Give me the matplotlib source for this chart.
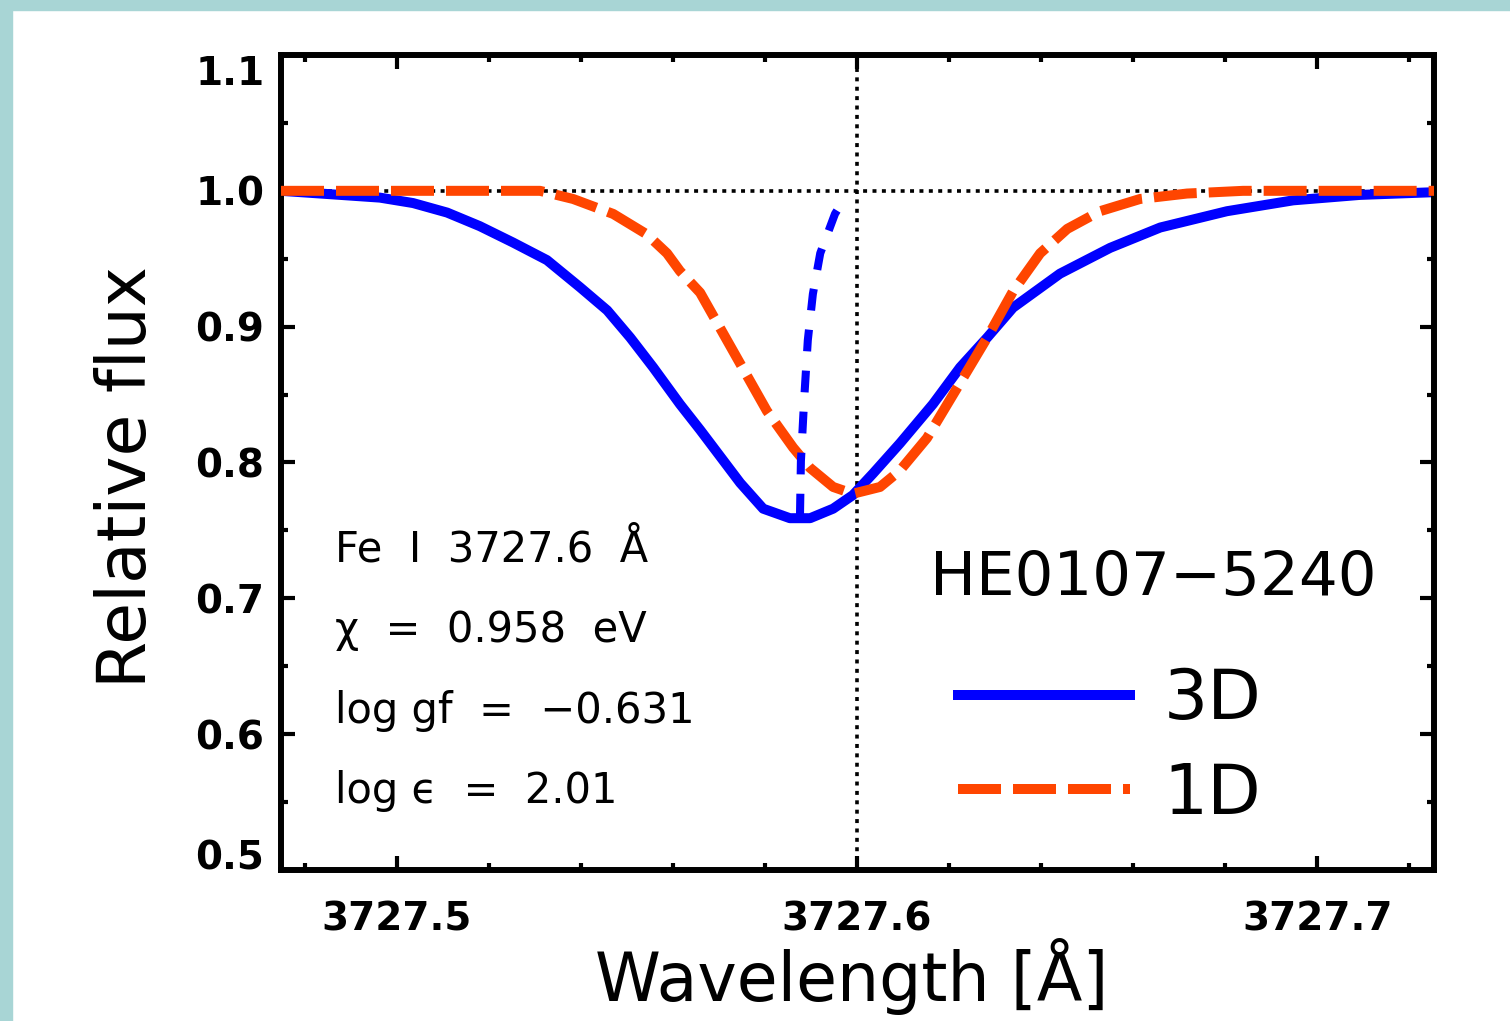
import matplotlib
matplotlib.use('Agg')
import matplotlib.pyplot as plt
from matplotlib.ticker import MultipleLocator, FormatStrFormatter
from matplotlib.patches import Rectangle

# 3D synthetic profile (blue solid)
wave_3d = [3727.4748, 3727.4963, 3727.5035, 3727.5109, 3727.5180, 3727.5252,
           3727.5326, 3727.5398, 3727.5457, 3727.5507, 3727.5557, 3727.5615,
           3727.5659, 3727.5746, 3727.5796, 3727.5854, 3727.5898, 3727.5948,
           3727.5991, 3727.6035, 3727.6093, 3727.6165, 3727.6224, 3727.6283,
           3727.6339, 3727.6441, 3727.6550, 3727.6659, 3727.6804, 3727.6948,
           3727.7093, 3727.7254]
flux_3d = [1.000, 0.995, 0.991, 0.984, 0.974, 0.962,
           0.949, 0.929, 0.912, 0.892, 0.870, 0.843,
           0.824, 0.785, 0.766, 0.759, 0.759, 0.766,
           0.776, 0.792, 0.814, 0.843, 0.870, 0.892,
           0.914, 0.939, 0.958, 0.973, 0.985, 0.993,
           0.997, 0.999]

# 1D synthetic profile (orange dashed)
wave_1d = [3727.4748, 3727.5311, 3727.5383, 3727.5470, 3727.5543, 3727.5587,
           3727.5615, 3727.5659, 3727.5739, 3727.5804, 3727.5861, 3727.5898,
           3727.5948, 3727.5991, 3727.6050, 3727.6093, 3727.6152, 3727.6230,
           3727.6283, 3727.6339, 3727.6398, 3727.6457, 3727.6528, 3727.6615,
           3727.6717, 3727.6839, 3727.7254]
flux_1d = [1.000, 1.000, 0.994, 0.983, 0.968, 0.954,
           0.941, 0.925, 0.877, 0.838, 0.811, 0.796,
           0.782, 0.777, 0.782, 0.794, 0.818, 0.862,
           0.892, 0.926, 0.954, 0.972, 0.985, 0.994,
           0.998, 1.000, 1.000]

# line bisector of the 3D profile (blue dotted)
wave_bis = [3727.5876, 3727.5878, 3727.5885, 3727.5893, 3727.5904, 3727.5920,
            3727.5952, 3727.5970]
flux_bis = [0.761, 0.801, 0.846, 0.890, 0.924, 0.954, 0.983, 0.993]

line_center = 3727.6
continuum = 1.0

info_lines = ['Fe  I  3727.6  Å', 'χ  =  0.958  eV', 'log gf  =  −0.631', 'log ϵ  =  2.01']
star_name = 'HE0107−5240'

BLUE = '#0000ff'
ORANGE = '#ff4500'

fig = plt.figure(figsize=(15.1, 10.21), dpi=100)
fig.patch.set_facecolor('white')

# teal frame on left and top edge
fig.patches.append(Rectangle((0, 0), 12 / 1510, 1, transform=fig.transFigure,
                             color='#a8d5d5', zorder=0))
fig.patches.append(Rectangle((0, 1 - 10 / 1021), 1, 10 / 1021, transform=fig.transFigure,
                             color='#a8d5d5', zorder=0))

ax = fig.add_axes([281 / 1510, 1 - 870 / 1021, 1153 / 1510, 815 / 1021])

# reference lines
ax.axhline(continuum, color='black', lw=2.6, linestyle=(0, (1.1, 1.5)), zorder=1)
ax.axvline(line_center, color='black', lw=2.6, linestyle=(0, (1.1, 1.5)), zorder=1)

ax.plot(wave_3d, flux_3d, color=BLUE, lw=7.2, solid_joinstyle='round', label='3D', zorder=2)
ax.plot(wave_1d, flux_1d, color=ORANGE, lw=7.2, linestyle=(0, (4.3, 1.2)),
        dash_capstyle='butt', label='1D', zorder=3)
ax.plot(wave_bis, flux_bis, color=BLUE, lw=5.8, linestyle=(0, (2.7, 2.4)),
        dash_capstyle='butt', zorder=4)

ax.set_xlim(3727.4748, 3727.7254)
ax.set_ylim(0.5, 1.1)

ax.xaxis.set_major_locator(MultipleLocator(0.1))
ax.xaxis.set_minor_locator(MultipleLocator(0.02))
ax.yaxis.set_major_locator(MultipleLocator(0.1))
ax.yaxis.set_minor_locator(MultipleLocator(0.05))
ax.xaxis.set_major_formatter(FormatStrFormatter('%.1f'))
ax.yaxis.set_major_formatter(FormatStrFormatter('%.1f'))

for sp in ax.spines.values():
    sp.set_linewidth(4.3)

ax.tick_params(which='both', direction='in', top=True, right=True, width=3)
ax.tick_params(which='major', length=10, labelsize=28)
ax.tick_params(which='minor', length=5)
ax.tick_params(axis='x', pad=22)
ax.tick_params(axis='y', pad=12)

fig.canvas.draw()
for lab in ax.get_xticklabels() + ax.get_yticklabels():
    lab.set_fontweight('bold')
# keep the end labels inside the frame, like the original
for tick in ax.yaxis.get_major_ticks():
    loc = tick.get_loc()
    if abs(loc - 0.5) < 1e-6:
        tick.label1.set_va('baseline')
    elif abs(loc - 1.1) < 1e-6:
        tick.label1.set_va('top')

ax.set_xlabel('Wavelength [Å]', fontsize=48)
ax.set_ylabel('Relative flux', fontsize=49)
ax.xaxis.set_label_coords(0.495, -0.131)
ax.xaxis.label.set_va('center')
ax.yaxis.set_label_coords(-0.1336, 0.482)
ax.yaxis.label.set_va('center')

# line parameters
for i, txt in enumerate(info_lines):
    ax.text(0.0468, 0.393 - i * 0.0988, txt, transform=ax.transAxes,
            fontsize=30, va='center', ha='left')

ax.text(0.563, 0.358, star_name, transform=ax.transAxes, fontsize=44,
        va='center', ha='left')

ax.legend(loc='upper left', bbox_to_anchor=(0.587, 0.2505), frameon=False,
          fontsize=50, handlelength=2.48, handletextpad=0.48, labelspacing=0.4,
          borderpad=0, borderaxespad=0)

fig.savefig('out.png', dpi=100)
